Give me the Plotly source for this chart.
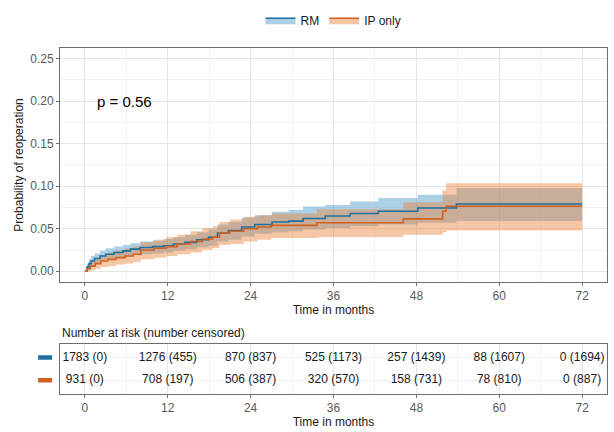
import plotly.graph_objects as go
from plotly.subplots import make_subplots

# ---- Data ----
rm_time = [0, 0.3, 0.6, 0.9, 1.4, 2.2, 3.0, 4.2, 5.5, 6.6, 8.0, 9.8, 11.4, 12.8, 14.5, 16.2, 17.9,
           19.2, 20.8, 22.7, 24.6, 27.1, 29.5, 31.6, 34.8, 38.4, 42.5, 48.2, 53.8, 72]
rm_est = [0, 0.005, 0.009, 0.012, 0.015, 0.018, 0.020, 0.022, 0.024, 0.026, 0.028, 0.029, 0.030,
          0.032, 0.034, 0.037, 0.040, 0.045, 0.048, 0.052, 0.055, 0.058, 0.059, 0.062, 0.065,
          0.068, 0.0705, 0.0744, 0.079, 0.079]
rm_lo = [0, 0.001, 0.004, 0.007, 0.009, 0.012, 0.014, 0.015, 0.017, 0.019, 0.020, 0.021, 0.022,
         0.024, 0.026, 0.028, 0.030, 0.035, 0.037, 0.041, 0.044, 0.046, 0.047, 0.049, 0.051,
         0.053, 0.055, 0.057, 0.059, 0.059]
rm_hi = [0, 0.009, 0.014, 0.018, 0.021, 0.024, 0.027, 0.029, 0.031, 0.033, 0.035, 0.036, 0.038,
         0.040, 0.043, 0.046, 0.049, 0.055, 0.058, 0.063, 0.066, 0.070, 0.072, 0.076, 0.078,
         0.082, 0.086, 0.090, 0.0977, 0.0977]

ip_time = [0, 0.3, 0.8, 1.5, 2.3, 3.3, 4.5, 5.8, 7.0, 8.1, 10.0, 11.8, 13.4, 15.3, 17.0, 18.5,
           19.5, 21.0, 23.0, 25.0, 27.0, 33.6, 46.1, 51.8, 52.3, 72]
ip_est = [0, 0.003, 0.006, 0.009, 0.012, 0.014, 0.016, 0.018, 0.020, 0.025, 0.027, 0.029, 0.032,
          0.035, 0.038, 0.040, 0.045, 0.047, 0.050, 0.052, 0.054, 0.057, 0.0616, 0.0705, 0.0765,
          0.0765]
ip_lo = [0, 0.000, 0.001, 0.003, 0.005, 0.006, 0.008, 0.009, 0.011, 0.014, 0.016, 0.018, 0.020,
         0.022, 0.025, 0.027, 0.031, 0.032, 0.035, 0.037, 0.039, 0.040, 0.043, 0.046, 0.048, 0.048]
ip_hi = [0, 0.007, 0.011, 0.015, 0.019, 0.022, 0.024, 0.027, 0.029, 0.034, 0.037, 0.040, 0.043,
         0.047, 0.051, 0.053, 0.058, 0.061, 0.064, 0.066, 0.068, 0.073, 0.081, 0.095, 0.1035,
         0.1035]

risk_times = [0, 12, 24, 36, 48, 60, 72]
rm_risk = ["1783 (0)", "1276 (455)", "870 (837)", "525 (1173)", "257 (1439)", "88 (1607)", "0 (1694)"]
ip_risk = ["931 (0)", "708 (197)", "506 (387)", "320 (570)", "158 (731)", "78 (810)", "0 (887)"]

groups = ["RM", "IP only"]
line_colors = ["#1E6FA0", "#D2601E"]
fill_colors = ["rgba(70,150,200,0.45)", "rgba(235,130,60,0.45)"]
pval_text = "p = 0.56"

# ---- Figure ----
FONT = "Liberation Sans, Arial, sans-serif"
fig = make_subplots(rows=2, cols=1, shared_xaxes=False,
                    row_heights=[0.676, 0.145], vertical_spacing=0.179)

series = [(rm_time, rm_est, rm_lo, rm_hi), (ip_time, ip_est, ip_lo, ip_hi)]
for (t, est, lo, hi), name, lc, fc in zip(series, groups, line_colors, fill_colors):
    fig.add_trace(go.Scatter(x=t, y=lo, mode="lines", line=dict(width=0, shape="hv"),
                             showlegend=False, hoverinfo="skip"), row=1, col=1)
    fig.add_trace(go.Scatter(x=t, y=hi, mode="lines", line=dict(width=0, shape="hv"),
                             fill="tonexty", fillcolor=fc, showlegend=False,
                             hoverinfo="skip"), row=1, col=1)

for (t, est, lo, hi), name, lc, fc in zip(series, groups, line_colors, fill_colors):
    fig.add_trace(go.Scatter(x=t, y=est, mode="lines", name=name,
                             line=dict(color=lc, width=1.6, shape="hv"),
                             showlegend=False), row=1, col=1)

# legend-only entries (filled key with line)
for i, (name, lc, fc) in enumerate(zip(groups, line_colors, fill_colors)):
    fig.add_trace(go.Scatter(x=[None], y=[None], mode="lines", name=name,
                             line=dict(color=lc, width=1.6), fill="toself",
                             fillcolor=fc, legendrank=i + 1), row=1, col=1)

# risk table
row_y = [2, 1]
for ry, vals in zip(row_y, [rm_risk, ip_risk]):
    fig.add_trace(go.Scatter(x=risk_times, y=[ry] * len(risk_times), mode="text",
                             text=vals, textposition="middle center",
                             textfont=dict(family=FONT, size=12, color="#1a1a1a"),
                             showlegend=False, hoverinfo="skip"), row=2, col=1)

# colored keys left of table rows
for ry, lc in zip(row_y, line_colors):
    fig.add_shape(type="rect", xref="x2 domain", yref="y2",
                  x0=-0.040, x1=-0.0146, y0=ry - 0.1, y1=ry + 0.1,
                  fillcolor=lc, line=dict(width=0), layer="above")

axis_common = dict(showline=True, mirror=True, linecolor="#6e6e6e", linewidth=1,
                   gridcolor="#E6E6E6", gridwidth=1, zeroline=False,
                   ticks="outside", ticklen=3, tickcolor="#6e6e6e",
                   tickfont=dict(family=FONT, size=12, color="#5a5a5a"))

fig.update_xaxes(range=[-3.6, 75.6], tickvals=risk_times,
                 minor=dict(dtick=6, tick0=0, showgrid=True, gridcolor="#F3F3F3", ticks=""),
                 title=dict(text="Time in months", font=dict(family=FONT, size=12, color="#1a1a1a"),
                            standoff=2),
                 **axis_common)
fig.update_yaxes(range=[-0.0125, 0.2625], dtick=0.05, tick0=0, tickformat=".2f",
                 minor=dict(dtick=0.025, tick0=0, showgrid=True, gridcolor="#F3F3F3", ticks=""),
                 title=dict(text="Probability of reoperation",
                            font=dict(family=FONT, size=12, color="#1a1a1a"), standoff=4),
                 row=1, col=1, **axis_common)
fig.update_yaxes(range=[0.4, 2.6], tickvals=row_y, showticklabels=False, ticks="",
                 showline=True, mirror=True, linecolor="#6e6e6e", linewidth=1,
                 gridcolor="#F0F0F0", zeroline=False, row=2, col=1)

fig.add_annotation(x=1.4, y=0.2, xref="x", yref="y", text=pval_text, showarrow=False,
                   xanchor="left", yanchor="middle",
                   font=dict(family=FONT, size=15, color="#000000"))
fig.add_annotation(x=0, y=1.0, xref="x2 domain", yref="y2 domain", yshift=2,
                   text="Number at risk (number censored)", showarrow=False,
                   xanchor="left", yanchor="bottom",
                   font=dict(family=FONT, size=12, color="#1a1a1a"))

fig.update_layout(
    width=614, height=432,
    margin=dict(l=60, r=6, t=45, b=35),
    paper_bgcolor="white", plot_bgcolor="white",
    font=dict(family=FONT, size=12, color="#1a1a1a"),
    legend=dict(orientation="h", x=0.5, xanchor="center", y=1.08, yanchor="middle",
                traceorder="normal",
                font=dict(family=FONT, size=12, color="#1a1a1a"),
                itemwidth=30, tracegroupgap=0),
)

fig.write_html("out.html")
